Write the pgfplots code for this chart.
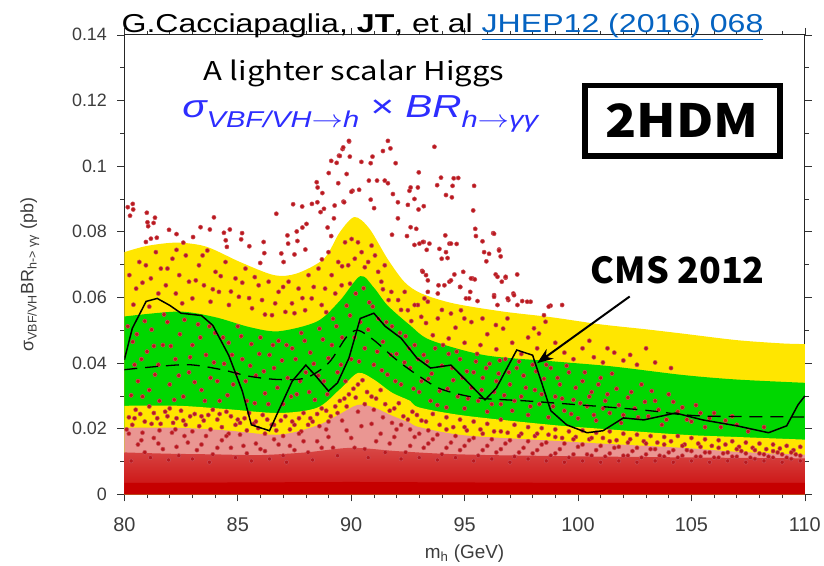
\documentclass[border=0pt]{standalone}
\usepackage{pgfplots}
\pgfplotsset{compat=1.18}
\usepackage{graphicx}
\usepackage{fontspec}
\setmainfont{Liberation Sans}
\newfontfamily\cjk{Noto Sans CJK SC}
\usetikzlibrary{arrows.meta}
\definecolor{bandyellow}{RGB}{255,230,0}
\definecolor{bandgreen}{RGB}{0,215,0}
\definecolor{ptred}{RGB}{185,25,30}
\definecolor{ptedge}{RGB}{205,80,90}
\definecolor{speckA}{RGB}{234,150,146}
\definecolor{speckB}{RGB}{216,72,70}
\definecolor{speckE}{RGB}{202,10,10}
\definecolor{speckD}{RGB}{198,0,0}
\definecolor{linkblue}{RGB}{5,99,193}
\definecolor{formblue}{RGB}{45,45,255}
\definecolor{tickgray}{RGB}{60,60,60}
\newcommand\sub[1]{\raisebox{-0.32em}{\fontsize{23}{25}\selectfont #1}}
\begin{document}
\begin{tikzpicture}
\begin{axis}[
  name=ax, at={(0,0)}, anchor=south west,
  scale only axis, width=684pt, height=462pt,
  xmin=80, xmax=110, ymin=0, ymax=0.14,
  clip mode=individual,
  xtick={80,85,90,95,100,105,110},
  xticklabels={80,85,90,95,100,105,110},
  ytick={0,0.02,0.04,0.06,0.08,0.1,0.12,0.14},
  yticklabels={0,0.02,0.04,0.06,0.08,0.1,0.12,0.14},
  minor x tick num=4, minor y tick num=1,
  tick align=outside,
  major tick length=7pt, minor tick length=4pt,
  tick style={black!80, line width=0.6pt},
  axis line style={black!85, line width=0.8pt},
  /pgf/number format/assume math mode=true,
  xticklabel style={font=\fontsize{20}{22}\selectfont, text=tickgray, yshift=-13pt},
  yticklabel style={font=\fontsize{18}{20}\selectfont, text=tickgray, xshift=-7pt},
  xlabel={m\textsubscript{h} (GeV)},
  xlabel style={font=\fontsize{19}{21}\selectfont, text=tickgray, at={(axis description cs:0.5,-0.128)}, anchor=center},
  ylabel={σ\textsubscript{VBF/VH}BR\textsubscript{h-> γγ} (pb)},
  ylabel style={font=\fontsize{18}{20}\selectfont, text=tickgray, at={(axis description cs:-0.139,0.478)}, anchor=center},
]
% 2 sigma upper
\addplot[draw=none, fill=bandyellow, smooth] coordinates {
(80,0.0738) (81,0.0757) (82.3,0.0767) (83.6,0.0755) (85.1,0.0708) (86.6,0.0668) (87.6,0.0673) (88.8,0.0718) (89.5,0.0799) (90.15,0.0845) (90.8,0.081) (91.6,0.0718) (92.35,0.0647) (93.1,0.0612) (94.5,0.0582) (96.7,0.0557) (98.8,0.054) (101,0.0518) (103,0.0503) (104.6,0.049) (107,0.047) (109,0.046) (110,0.0458)} \closedcycle;
% 1 sigma upper
\addplot[draw=none, fill=bandgreen, smooth] coordinates {
(80,0.0542) (82.4,0.0557) (84,0.054) (85.5,0.051) (86.8,0.0497) (88.5,0.0527) (89.5,0.059) (90.4,0.0665) (91.0,0.063) (91.6,0.0576) (92.6,0.0515) (93.5,0.047) (95.9,0.0424) (98.8,0.0406) (101.5,0.039) (104.6,0.0364) (107,0.035) (110,0.034)} \closedcycle;
% 1 sigma lower
\addplot[draw=none, fill=bandyellow, smooth] coordinates {
(80,0.027) (82.4,0.027) (84.5,0.026) (86.8,0.0248) (88.5,0.0264) (89.5,0.032) (90.3,0.037) (91,0.035) (91.8,0.031) (92.6,0.0285) (93,0.0265) (95,0.024) (98.8,0.0212) (101,0.020) (104.6,0.0182) (107,0.0175) (110,0.0167)} \closedcycle;
% 2 sigma lower: below it the densely populated region
\addplot[draw=none, fill=speckA, smooth] coordinates {
(80,0.0203) (82.4,0.0203) (84.5,0.0195) (86.8,0.0182) (88.5,0.021) (89.5,0.0245) (90.3,0.0273) (91,0.0265) (91.8,0.024) (92.6,0.0218) (93,0.0205) (95,0.018) (98.8,0.0164) (101,0.0155) (104.6,0.0142) (107,0.013) (110,0.0121)} \closedcycle;
\addplot[draw=none, top color=speckB, bottom color=speckE, smooth] coordinates {
(80,0.0128) (82,0.0124) (84,0.0122) (86,0.012) (88,0.0128) (90,0.0142) (92,0.0132) (94,0.0124) (96,0.012) (98,0.0118) (100,0.0116) (103,0.0114) (106,0.0112) (110,0.011)} \closedcycle;
\addplot[draw=none, fill=speckD] coordinates {
(80,0.0035) (90,0.0038) (100,0.0035) (110,0.0035)} \closedcycle;
% scatter points
\addplot[only marks, mark=*, mark size=2.1pt, mark options={fill=ptred, draw=ptedge, line width=0.5pt}] coordinates {
(80.15,0.0875) (80.37,0.0885) (80.39,0.0868) (80.25,0.0849) (80.99,0.0858) (81.02,0.0829) (81.05,0.0817) (81.35,0.0843) (81.29,0.0827) (81.17,0.0779) (80.95,0.0769) (81.43,0.0782) (81.97,0.0806) (82.30,0.0793) (82.60,0.0767) (83.03,0.0784) (83.36,0.0814) (83.77,0.0807) (83.95,0.0844) (84.39,0.0797) (84.65,0.0807) (84.47,0.0774) (84.52,0.0754) (85.19,0.0796) (85.15,0.0777) (85.51,0.0756) (86.14,0.0769) (86.17,0.0735) (85.99,0.0705) (86.70,0.0855) (87.19,0.0789) (87.22,0.0764) (86.92,0.0734) (87.02,0.0708) (87.50,0.0731) (87.60,0.0801) (87.63,0.0772) (87.85,0.0813) (88.03,0.0824) (87.98,0.0746) (87.44,0.0884) (87.84,0.0877) (88.27,0.0885) (88.51,0.089) (88.65,0.086) (88.80,0.087) (88.48,0.0951) (88.52,0.0935) (88.73,0.0918) (89.01,0.0979) (89.12,0.1016) (89.36,0.101) (89.46,0.1032) (89.62,0.1052) (89.91,0.1075) (90.06,0.0925) (89.43,0.0948) (89.66,0.0892) (89.27,0.088) (89.24,0.0841) (89.12,0.0787) (88.96,0.0813) (88.71,0.0716)
(89.90,0.1077) (89.65,0.1057) (89.94,0.1029) (89.50,0.1031) (91.62,0.1077) (91.73,0.1054) (91.40,0.1046) (90.94,0.1029) (90.86,0.1009) (90.45,0.1013) (91.96,0.1009) (93.67,0.1059) (89.80,0.0976) (90.78,0.0956) (91.14,0.0956) (91.48,0.0956) (91.62,0.0948) (90.01,0.0922) (90.35,0.0928) (89.69,0.089) (90.86,0.0898) (91.01,0.0872) (91.84,0.0915) (92.06,0.089) (92.57,0.0925) (92.62,0.0935) (92.94,0.0935) (92.98,0.0981) (92.79,0.09) (93.20,0.0878) (92.97,0.0868) (92.50,0.0882) (93.96,0.0965) (93.79,0.0942) (94.52,0.0963) (94.72,0.0964) (94.47,0.094) (94.18,0.0912) (94.44,0.0905) (95.42,0.094) (95.38,0.0865) (92.06,0.0841) (92.62,0.0814) (92.87,0.0809) (92.46,0.0787) (91.80,0.0791) (92.79,0.076) (93.01,0.0764) (93.20,0.0769) (93.33,0.0745) (93.89,0.0748) (94.15,0.0789) (94.33,0.0764) (94.65,0.0763) (93.99,0.0718) (94.25,0.072) (95.47,0.0809) (95.50,0.0787) (95.79,0.0771) (96.26,0.0796) (95.86,0.0738) (95.96,0.071) (96.52,0.0746) (96.59,0.0725) (93.13,0.0681) (93.30,0.0668) (93.85,0.0637) (94.11,0.0637) (94.55,0.067) (94.94,0.0678) (94.33,0.0648) (95.35,0.0658) (95.45,0.0655) (94.80,0.0632) (95.25,0.0617) (95.06,0.0597) (95.57,0.0589) (96.37,0.067) (96.64,0.0648) (97.32,0.067) (96.81,0.066) (96.30,0.0607) (96.93,0.0592) (97.15,0.0612) (97.54,0.0589) (97.91,0.0587) (98.79,0.0575) (99.30,0.0577) (93.82,0.0612) (93.38,0.0617)
(96.30,0.0794) (93.16,0.0769) (93.45,0.0764) (94.40,0.0764) (94.18,0.0738) (96.08,0.0733) (96.52,0.0743) (93.16,0.0678) (93.38,0.0652) (94.40,0.0652) (95.28,0.0658) (96.45,0.0663) (96.81,0.0663) (94.81,0.0632) (95.2,0.0597) (96.3,0.0602) (96.9,0.0597) (97.18,0.0607) (96.45,0.0577) (97.33,0.0577) (97.76,0.0587) (98.71,0.0572) (95.79,0.0536) (96.38,0.0516) (96.89,0.0536) (98.06,0.0506) (98.28,0.049) (98.5,0.0546) (98.57,0.0526) (92.94,0.0577) (93.38,0.0587) (93.82,0.0536) (94.40,0.0551) (94.84,0.0561) (94.99,0.0536)
(80.22,0.0668) (80.52,0.0627) (80.66,0.0708) (80.95,0.0698) (81.17,0.0658) (81.39,0.0738) (81.61,0.0688) (81.83,0.0637) (82.12,0.0718) (82.27,0.0612) (82.42,0.0668) (82.71,0.0728) (82.85,0.0648) (83.0,0.0597) (83.29,0.0698) (83.51,0.0637) (83.66,0.0743) (83.80,0.0587) (84.02,0.0678) (84.17,0.0617) (84.46,0.0708) (84.61,0.0577) (84.9,0.0658) (85.05,0.0602) (85.34,0.0688) (85.63,0.0567) (85.92,0.0637) (86.07,0.0592) (86.36,0.0648) (86.51,0.0546) (86.80,0.0617) (87.10,0.0556) (87.24,0.0648) (87.39,0.0582) (87.68,0.0627) (87.97,0.0561) (88.12,0.0668) (88.26,0.0597) (88.56,0.0688) (88.70,0.0577) (88.85,0.0627) (89.0,0.0738) (89.14,0.0668) (89.43,0.0708) (89.58,0.0637) (89.73,0.0768) (89.87,0.0698) (90.02,0.0778) (90.16,0.0718) (90.46,0.0738) (90.75,0.0708) (90.9,0.0758) (91.19,0.0678) (91.33,0.0648) (91.48,0.0698) (91.77,0.0617) (92.07,0.0592) (92.36,0.0617) (92.5,0.0561) (92.8,0.0577) (93.09,0.0541) (93.23,0.0597)
(80.4,0.0578) (80.8,0.0645) (81.1,0.0572) (81.5,0.0612) (81.9,0.0688) (82.3,0.0745) (82.55,0.0582) (83.15,0.0652) (83.45,0.0728) (83.9,0.0625) (84.25,0.0665) (84.7,0.0618) (85.2,0.0645) (85.5,0.0598) (85.75,0.0662) (86.2,0.0548) (86.65,0.0582) (87.0,0.0632) (87.5,0.0552) (87.85,0.0598) (88.35,0.0632) (88.9,0.0555) (89.3,0.0612) (89.6,0.0695) (89.95,0.0642) (90.3,0.0768) (90.6,0.0692) (91.05,0.0728) (91.4,0.0625) (91.65,0.0592) (92.2,0.0562) (92.65,0.0528)
(80.15,0.0512) (80.37,0.0465) (80.45,0.0395) (80.6,0.0345) (80.8,0.0298) (81.0,0.0435) (81.2,0.0502) (81.35,0.0365) (81.55,0.0285) (81.7,0.0455) (81.9,0.0525) (82.0,0.0335) (82.25,0.0412) (82.45,0.0488) (82.6,0.0298) (82.85,0.0372) (83.0,0.0455) (83.25,0.0518) (83.4,0.0318) (83.6,0.0425) (83.8,0.0355) (84.0,0.0492) (84.2,0.0285) (84.4,0.0398) (84.6,0.0462) (84.8,0.0335) (85.0,0.0512) (85.2,0.0412) (85.4,0.0285) (85.6,0.0458) (85.8,0.0362) (86.0,0.0478) (86.2,0.0308) (86.4,0.0425) (86.6,0.0385) (86.8,0.0468) (87.0,0.0275) (87.2,0.0355) (87.4,0.0445) (87.6,0.0305) (87.8,0.0492) (88.0,0.0372) (88.2,0.0432) (88.4,0.0288) (88.6,0.0505) (88.8,0.0345) (89.0,0.0415) (89.2,0.0535) (89.4,0.0372) (89.6,0.0478) (89.8,0.0575) (90.0,0.0412) (90.2,0.0612) (90.4,0.0525) (90.6,0.0445) (90.8,0.0585) (91.0,0.0395) (91.2,0.0535) (91.4,0.0465) (91.6,0.0365) (91.8,0.0512) (92.0,0.0428) (92.2,0.0335) (92.4,0.0482) (92.6,0.0385) (92.8,0.0455) (93.0,0.0312)
(80.3,0.0302) (80.55,0.0488) (80.75,0.0412) (80.9,0.0528) (81.1,0.0318) (81.3,0.0452) (81.5,0.0395) (81.75,0.0548) (82.05,0.0452) (82.2,0.0288) (82.4,0.0362) (82.65,0.0532) (82.9,0.0418) (83.1,0.0342) (83.35,0.0478) (83.55,0.0285) (83.75,0.0512) (83.95,0.0402) (84.1,0.0345) (84.35,0.0478) (84.55,0.0302) (84.75,0.0425) (84.95,0.0368) (85.15,0.0482) (85.35,0.0345) (85.55,0.0392) (85.75,0.0278) (85.95,0.0428) (86.15,0.0375) (86.35,0.0275) (86.55,0.0455) (86.75,0.0325) (86.95,0.0408) (87.15,0.0455) (87.35,0.0298) (87.55,0.0412) (87.75,0.0345) (87.95,0.0468) (88.15,0.0312) (88.35,0.0398) (88.55,0.0362) (88.75,0.0472) (88.95,0.0305) (89.15,0.0455) (89.35,0.0512) (89.55,0.0395) (89.75,0.0345) (89.95,0.0545) (90.15,0.0478) (90.35,0.0405) (90.55,0.0628) (90.75,0.0502) (90.95,0.0572) (91.15,0.0435) (91.35,0.0378) (91.55,0.0525) (91.75,0.0425) (91.95,0.0345) (92.15,0.0492) (92.35,0.0402) (92.55,0.0445) (92.75,0.0322) (92.95,0.0412)
(80.2,0.0235) (80.5,0.0258) (80.9,0.0222) (81.3,0.0248) (81.6,0.0215) (82.0,0.0262) (82.3,0.0232) (82.7,0.0212) (83.1,0.0245) (83.5,0.0225) (83.9,0.0258) (84.3,0.0205) (84.7,0.0238) (85.1,0.0218) (85.5,0.0248) (85.9,0.0202) (86.3,0.0228) (86.7,0.0195) (87.1,0.0238) (87.5,0.0212) (87.9,0.0248) (88.3,0.0222) (88.7,0.0262) (89.1,0.0238) (89.5,0.0285) (89.9,0.0305) (90.3,0.0335) (90.7,0.0312) (91.1,0.0292) (91.5,0.0275) (91.9,0.0262) (92.3,0.0238) (92.7,0.0252) (93.1,0.0225)
(80.35,0.0212) (80.7,0.0245) (81.1,0.0268) (81.45,0.0232) (81.8,0.0252) (82.15,0.0218) (82.5,0.0255) (82.9,0.0238) (83.3,0.0208) (83.7,0.0242) (84.1,0.0228) (84.5,0.0252) (84.9,0.0212) (85.3,0.0232) (85.7,0.0215) (86.1,0.0242) (86.5,0.0212) (86.9,0.0225) (87.3,0.0198) (87.7,0.0232) (88.1,0.0212) (88.5,0.0245) (88.9,0.0255) (89.3,0.0268) (89.7,0.0292) (90.1,0.0322) (90.5,0.0348) (90.9,0.0298) (91.3,0.0318) (91.7,0.0255) (92.1,0.0278) (92.5,0.0228) (92.9,0.0242)
(93.2,0.0425) (93.4,0.0352) (93.5,0.0285) (93.7,0.0445) (93.9,0.0315) (94.0,0.0392) (94.2,0.0265) (94.3,0.0428) (94.5,0.0348) (94.7,0.0298) (94.8,0.0412) (95.0,0.0262) (95.1,0.0375) (95.3,0.0325) (95.5,0.0405) (95.6,0.0285) (95.8,0.0355) (96.0,0.0252) (96.1,0.0398) (96.3,0.0312) (96.5,0.0368) (96.6,0.0275) (96.8,0.0412) (97.0,0.0335) (97.1,0.0255) (97.3,0.0385) (97.5,0.0298) (97.6,0.0362) (97.8,0.0242) (98.0,0.0395) (98.1,0.0318) (98.3,0.0275) (98.5,0.0352) (98.7,0.0235) (98.8,0.0385) (99.0,0.0298) (99.2,0.0335) (99.4,0.0255) (99.6,0.0372) (99.8,0.0288) (100.0,0.0232) (100.2,0.0345) (100.4,0.0268) (100.6,0.0312) (100.8,0.0225) (101.0,0.0355) (101.2,0.0285) (101.4,0.0248) (101.7,0.0322) (101.9,0.0218) (102.2,0.0295) (102.5,0.0262) (102.8,0.0335) (103.1,0.0238) (103.4,0.0285) (103.7,0.0212) (104.0,0.0305) (104.4,0.0252) (104.8,0.0228) (105.2,0.0272) (105.6,0.0205) (106.0,0.0248) (106.5,0.0225) (107.0,0.0212)
(93.1,0.0345) (93.35,0.0405) (93.55,0.0368) (93.8,0.0272) (94.05,0.0455) (94.25,0.0322) (94.45,0.0385) (94.65,0.0435) (94.9,0.0355) (95.15,0.0292) (95.4,0.0372) (95.55,0.0428) (95.75,0.0318) (95.95,0.0385) (96.2,0.0275) (96.4,0.0345) (96.55,0.0408) (96.75,0.0302) (96.95,0.0372) (97.2,0.0285) (97.4,0.0405) (97.7,0.0325) (97.9,0.0268) (98.15,0.0375) (98.4,0.0305) (98.6,0.0395) (98.9,0.0268) (99.1,0.0355) (99.3,0.0292) (99.5,0.0392) (99.7,0.0245) (99.9,0.0325) (100.1,0.0278) (100.3,0.0372) (100.5,0.0298) (100.7,0.0242) (100.9,0.0335) (101.1,0.0262) (101.3,0.0305) (101.5,0.0368) (101.8,0.0272) (102.0,0.0242) (102.35,0.0312) (102.65,0.0235) (102.95,0.0282) (103.25,0.0315) (103.55,0.0258) (103.9,0.0228) (104.2,0.0282) (104.6,0.0265) (105.0,0.0222) (105.4,0.0248) (105.8,0.0232) (106.3,0.0205) (106.8,0.0238) (107.5,0.0192) (108.2,0.0205)
(93.3,0.0522) (93.6,0.0485) (94.0,0.0562) (94.3,0.0475) (94.6,0.0508) (95.0,0.0462) (95.3,0.0525) (95.7,0.0455) (96.0,0.0488) (96.4,0.0442) (96.7,0.0505) (97.1,0.0462) (97.5,0.0428) (97.8,0.0478) (98.2,0.0445) (98.6,0.0418) (99.0,0.0462) (99.4,0.0432) (99.8,0.0412) (100.2,0.0445) (100.7,0.0418) (101.1,0.0402) (101.6,0.0432) (102.0,0.0408) (102.6,0.0395) (103.4,0.0402) (104.1,0.0385) (100.5,0.0468) (101.3,0.0445) (102.3,0.0425) (103.0,0.0445)
(93.3,0.0222) (93.6,0.0245) (93.9,0.0212) (94.2,0.0235) (94.5,0.0205) (94.8,0.0228) (95.1,0.0195) (95.4,0.0222) (95.7,0.0198) (96.0,0.0215) (96.3,0.0192) (96.6,0.0228) (96.9,0.0188) (97.2,0.0212) (97.5,0.0185) (97.8,0.0205) (98.1,0.0178) (98.4,0.0202) (98.7,0.0182) (99.0,0.0198) (99.3,0.0172) (99.6,0.0192) (99.9,0.0175) (100.2,0.0195) (100.5,0.0168) (100.8,0.0188) (101.1,0.0172) (101.4,0.0192) (101.7,0.0165) (102.0,0.0185) (102.3,0.0168) (102.6,0.0182) (102.9,0.0162) (103.2,0.0178) (103.5,0.0158) (103.8,0.0175) (104.1,0.0162) (104.4,0.0178) (104.7,0.0152) (105.0,0.0172) (105.3,0.0155) (105.6,0.0168) (105.9,0.0148) (106.2,0.0165) (106.5,0.0152) (106.8,0.0162) (107.1,0.0145) (107.4,0.0158) (107.7,0.0142) (108.0,0.0155) (108.3,0.0138) (108.6,0.0152) (108.9,0.014) (109.2,0.0148) (109.5,0.0135) (109.8,0.0145)
(80.1,0.0198) (80.45,0.0232) (80.8,0.0188) (81.2,0.0215) (81.55,0.0195) (81.9,0.0238) (82.25,0.0198) (82.6,0.0225) (83.0,0.0192) (83.4,0.0238) (83.8,0.0198) (84.2,0.0245) (84.6,0.0185) (85.0,0.0228) (85.4,0.0195) (85.8,0.0222) (86.2,0.0185) (86.6,0.0212) (87.0,0.0178) (87.4,0.0222) (87.8,0.0192) (88.2,0.0232) (88.6,0.0208) (89.0,0.0222) (89.4,0.0248) (89.8,0.0268) (90.2,0.0295) (90.6,0.0275) (91.0,0.0258) (91.4,0.0235) (91.8,0.0218) (92.2,0.0212) (92.6,0.0198) (93.0,0.0185) (93.4,0.0195) (93.8,0.0182) (94.2,0.0198) (94.6,0.0178) (95.0,0.0205) (95.4,0.0172) (95.8,0.0185) (96.2,0.0168) (96.6,0.0192) (97.0,0.0165) (97.4,0.0178) (97.8,0.0162) (98.2,0.0185) (98.6,0.0158) (99.0,0.0175) (99.4,0.0155) (99.8,0.0168) (100.2,0.0152) (100.6,0.0172) (101.0,0.0148) (101.4,0.0162) (101.8,0.0145) (102.2,0.0158) (102.6,0.0142) (103.0,0.0155) (103.4,0.0138) (103.8,0.0152) (104.2,0.0135) (104.6,0.0148) (105.0,0.0132) (105.4,0.0145) (105.8,0.0128) (106.2,0.0142) (106.6,0.0128) (107.0,0.0138) (107.4,0.0125) (107.8,0.0135) (108.2,0.0122) (108.6,0.0132) (109.0,0.0122) (109.4,0.0128) (109.8,0.0118)
(80.2,0.0185) (80.6,0.0152) (80.9,0.0128) (81.3,0.0172) (81.7,0.0138) (82.1,0.0188) (82.4,0.0118) (82.8,0.0158) (83.2,0.0135) (83.6,0.0178) (83.9,0.0122) (84.3,0.0165) (84.7,0.0142) (85.1,0.0182) (85.4,0.0125) (85.8,0.0155) (86.2,0.0132) (86.6,0.0168) (87.0,0.0118) (87.3,0.0148) (87.7,0.0185) (88.1,0.0128) (88.5,0.0162) (88.9,0.0198) (89.2,0.0142) (89.6,0.0225) (90.0,0.0172) (90.3,0.0252) (90.6,0.0138) (90.9,0.0215) (91.3,0.0185) (91.7,0.0155) (92.0,0.0198) (92.4,0.0128) (92.8,0.0175) (93.2,0.0142) (93.6,0.0168) (94.0,0.0122) (94.4,0.0158) (94.8,0.0135) (95.2,0.0165) (95.6,0.0118) (96.0,0.0148) (96.4,0.0128) (96.8,0.0155) (97.2,0.0115) (97.6,0.0142) (98.0,0.0125) (98.4,0.0152) (98.8,0.0118) (99.2,0.0138) (99.6,0.0112) (100.0,0.0145) (100.4,0.0122) (100.8,0.0135) (101.2,0.0115) (101.6,0.0142) (102.0,0.0118) (102.4,0.0132) (102.8,0.0112) (103.2,0.0138) (103.6,0.0118) (104.0,0.0128) (104.4,0.0112) (104.8,0.0135) (105.2,0.0115) (105.6,0.0128) (106.0,0.0112) (106.4,0.0125) (106.8,0.0115) (107.2,0.0132) (107.6,0.0112) (108.0,0.0125) (108.4,0.0115) (108.8,0.0128) (109.2,0.0112) (109.6,0.0122)
(80.3,0.0102) (80.75,0.0165) (81.15,0.0112) (81.5,0.0155) (81.95,0.0105) (82.3,0.0145) (82.65,0.0178) (83.0,0.0108) (83.4,0.0152) (83.75,0.0098) (84.1,0.0142) (84.5,0.0178) (84.9,0.0112) (85.25,0.0148) (85.6,0.0102) (86.0,0.0138) (86.4,0.0108) (86.8,0.0152) (87.15,0.0098) (87.5,0.0135) (87.9,0.0162) (88.3,0.0105) (88.7,0.0142) (89.0,0.0175) (89.4,0.0118) (89.8,0.0195) (90.15,0.0142) (90.45,0.0208) (90.75,0.0112) (91.1,0.0162) (91.5,0.0128) (91.9,0.0175) (92.2,0.0108) (92.6,0.0148) (93.0,0.0112) (93.4,0.0155) (93.8,0.0105) (94.2,0.0142) (94.6,0.0112) (95.0,0.0148) (95.4,0.0102) (95.8,0.0135) (96.2,0.0108) (96.6,0.0138) (97.0,0.0098) (97.4,0.0128) (97.8,0.0108) (98.2,0.0135) (98.6,0.0102) (99.0,0.0125) (99.4,0.0098) (99.8,0.0122) (100.2,0.0102) (100.6,0.0118) (101.0,0.0098) (101.4,0.0125) (101.8,0.0102) (102.2,0.0118) (102.6,0.0098) (103.0,0.0122) (103.4,0.0102) (103.8,0.0115) (104.2,0.0098) (104.6,0.0118) (105.0,0.0102) (105.4,0.0115) (105.8,0.0098) (106.2,0.0112) (106.6,0.0102) (107.0,0.0115) (107.4,0.0098) (107.8,0.0108) (108.2,0.0102) (108.6,0.0112) (109.0,0.0098) (109.4,0.0108) (109.8,0.0102)
};
% expected (dashed)
\addplot[black, line width=1.3pt, dash pattern=on 13pt off 8pt, smooth] coordinates {
(80,0.038) (81.5,0.039) (82.9,0.0395) (84.3,0.038) (85.5,0.036) (86.8,0.035) (88,0.0355) (89,0.040) (89.8,0.048) (90.3,0.050) (91,0.047) (92,0.041) (93,0.036) (94,0.032) (95.6,0.0294) (97.9,0.0284) (101.7,0.0264) (103.3,0.0254) (104.6,0.0243) (106,0.0238) (110,0.0236)};
% observed (solid)
\addplot[black, line width=1.5pt] coordinates {
(80,0.041) (80.35,0.0506) (80.96,0.0588) (81.45,0.0597) (82.0,0.0576) (82.5,0.0552) (83.4,0.0545) (83.9,0.0515) (84.6,0.0424) (85.2,0.0315) (85.6,0.0212) (86.4,0.0194) (86.8,0.0255) (87.4,0.0345) (88.0,0.0394) (88.4,0.0364) (89.0,0.0315) (89.4,0.034) (89.9,0.0415) (90.4,0.0536) (91.0,0.0552) (91.5,0.0512) (92.2,0.0476) (92.9,0.0415) (93.5,0.0385) (94.4,0.0394) (95.1,0.0345) (95.9,0.0288) (96.4,0.0324) (97.3,0.044) (98.0,0.0424) (98.8,0.0255) (99.5,0.0212) (100.4,0.0188) (101.1,0.0194) (102.0,0.0233) (102.9,0.0227) (104.3,0.0248) (105.5,0.0227) (107.0,0.0209) (108.4,0.0188) (109.2,0.0209) (109.7,0.0273) (110,0.030)};
% annotations
\node[anchor=base west, inner sep=0pt, font=\fontsize{26}{28}\selectfont] at (axis cs:79.87,0.1406) {\scalebox{1.24}[1]{G.Cacciapaglia, \textbf{JT}, et al \textcolor{linkblue}{\underline{JHEP12 (2016) 068}}}};
\node[font=\cjk\fontsize{26}{28}\selectfont] at (axis cs:90.13,0.1282) {\scalebox{1.2}[1]{A lighter scalar Higgs}};
\node[text=formblue, font=\fontsize{32}{34}\selectfont, anchor=base] at (axis cs:90.4,0.1148) {\scalebox{1.27}[1]{\itshape σ\sub{VBF/VH$\rightarrow$h}\upshape\ × \itshape BR\sub{h$\rightarrow$γγ}}};
\node[draw=black, fill=white, line width=6pt, minimum width=196pt, minimum height=71pt, font=\cjk\bfseries\fontsize{46}{48}\selectfont] at (axis cs:104.6,0.1138) {\scalebox{1.12}[1]{2HDM}};
\node[font=\cjk\bfseries\fontsize{36}{38}\selectfont] at (axis cs:104.4,0.0682) {CMS 2012};
\draw[-{Stealth[length=16pt,width=12pt]}, line width=2pt] (axis cs:102.28,0.0603) -- (axis cs:98.2,0.0400);
\end{axis}
\path (-125pt,-70pt) rectangle (699pt,497pt);
\end{tikzpicture}
\end{document}
